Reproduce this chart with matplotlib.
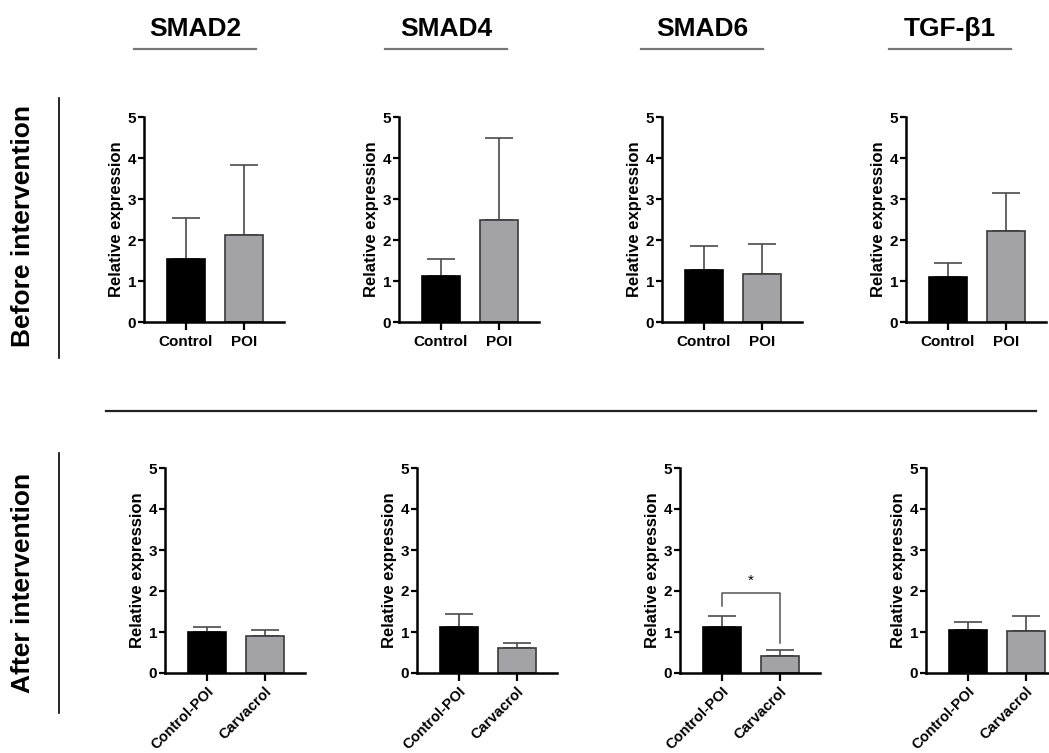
import numpy as np
import matplotlib.pyplot as plt

plt.rcParams["font.family"] = ["Liberation Sans", "DejaVu Sans"]
plt.rcParams["font.weight"] = "bold"

genes = ["SMAD2", "SMAD4", "SMAD6", "TGF-β1"]
before_groups = ["Control", "POI"]
after_groups = ["Control-POI", "Carvacrol"]

# mean and upper error (SD)
before_ctrl_mean = [1.53, 1.11, 1.26, 1.09]
before_ctrl_err = [1.00, 0.43, 0.60, 0.34]
before_poi_mean = [2.12, 2.50, 1.17, 2.22]
before_poi_err = [1.72, 1.99, 0.73, 0.92]

after_ctrl_mean = [1.00, 1.11, 1.13, 1.04]
after_ctrl_err = [0.13, 0.34, 0.26, 0.20]
after_carv_mean = [0.91, 0.61, 0.41, 1.02]
after_carv_err = [0.13, 0.12, 0.16, 0.36]

W, H = 1049, 753
fig = plt.figure(figsize=(W / 100, H / 100), dpi=100)

BAR_COLORS = ["black", "#a3a3a7"]
EDGE_COLORS = ["black", "#3a3a3a"]
UNIT_PX = 58.0
X0 = -0.72


def px_axes(left, y0, width=140, height=205):
    ax = fig.add_axes([left / W, 1 - y0 / H, width / W, height / H])
    ax.set_xlim(X0, X0 + width / UNIT_PX)
    return ax


def draw_panel(ax, means, errs, labels, rotate=False):
    x = np.arange(len(means))
    ax.bar(x, means, width=0.655, color=BAR_COLORS, edgecolor=EDGE_COLORS,
           linewidth=1.2, zorder=2)
    ax.errorbar(x, means, yerr=[np.zeros(len(errs)), errs], fmt="none",
                ecolor="#4a4a4a", elinewidth=1.2, capsize=10, capthick=1.2, zorder=1)
    ax.set_ylim(0, 5)
    ax.set_yticks([0, 1, 2, 3, 4, 5])
    ax.set_xticks(x)
    if rotate:
        ax.set_xticklabels(labels, rotation=45, ha="right", rotation_mode="anchor",
                           fontsize=10.5, fontweight="bold")
        ax.tick_params(axis="x", pad=2)
    else:
        ax.set_xticklabels(labels, fontsize=11, fontweight="bold")
        ax.tick_params(axis="x", pad=3)
    ax.tick_params(axis="y", labelsize=11, width=1.6, length=4, pad=1.5)
    ax.tick_params(axis="x", width=1.6, length=6)
    for lab in ax.get_yticklabels():
        lab.set_fontweight("bold")
    for s in ["top", "right"]:
        ax.spines[s].set_visible(False)
    for s in ["left", "bottom"]:
        ax.spines[s].set_linewidth(1.8)
    ax.set_ylabel("Relative expression", fontsize=12, fontweight="bold", labelpad=3)


top_left = [144, 399, 662, 906]
bottom_left = [165, 417, 680, 926]
bottom_width = [140, 140, 140, 122]

for i, gene in enumerate(genes):
    ax = px_axes(top_left[i], 322)
    draw_panel(ax, [before_ctrl_mean[i], before_poi_mean[i]],
               [before_ctrl_err[i], before_poi_err[i]], before_groups)

    ax = px_axes(bottom_left[i], 673, width=bottom_width[i])
    draw_panel(ax, [after_ctrl_mean[i], after_carv_mean[i]],
               [after_ctrl_err[i], after_carv_err[i]], after_groups, rotate=True)
    if gene == "SMAD6":
        ax.plot([0, 0, 1, 1], [1.64, 1.95, 1.95, 0.74], color="#555555",
                linewidth=1.1, clip_on=False)
        ax.text(0.5, 2.07, "*", ha="center", va="bottom", fontsize=11,
                fontweight="normal")

# column titles with underline
title_cx = [195, 446, 702, 950]
for cx, gene in zip(title_cx, genes):
    fig.text(cx / W, 1 - 29 / H, gene, ha="center", va="center",
             fontsize=19, fontweight="bold")
    fig.add_artist(plt.Line2D([(cx - 61) / W, (cx + 61) / W], [1 - 49 / H, 1 - 49 / H],
                              color="#777777", linewidth=1.6))

# row labels with vertical rules
fig.text(23 / W, 1 - 226 / H, "Before intervention", rotation=90,
         ha="center", va="center", fontsize=19, fontweight="bold")
fig.add_artist(plt.Line2D([59 / W, 59 / W], [1 - 98 / H, 1 - 358 / H],
                          color="black", linewidth=1.2))
fig.text(23 / W, 1 - 583 / H, "After intervention", rotation=90,
         ha="center", va="center", fontsize=19, fontweight="bold")
fig.add_artist(plt.Line2D([59 / W, 59 / W], [1 - 453 / H, 1 - 713 / H],
                          color="black", linewidth=1.2))

# separator between rows
fig.add_artist(plt.Line2D([106 / W, 1036 / W], [1 - 411 / H, 1 - 411 / H],
                          color="#222222", linewidth=1.6))

fig.savefig("out.png", dpi=100, facecolor="white")
